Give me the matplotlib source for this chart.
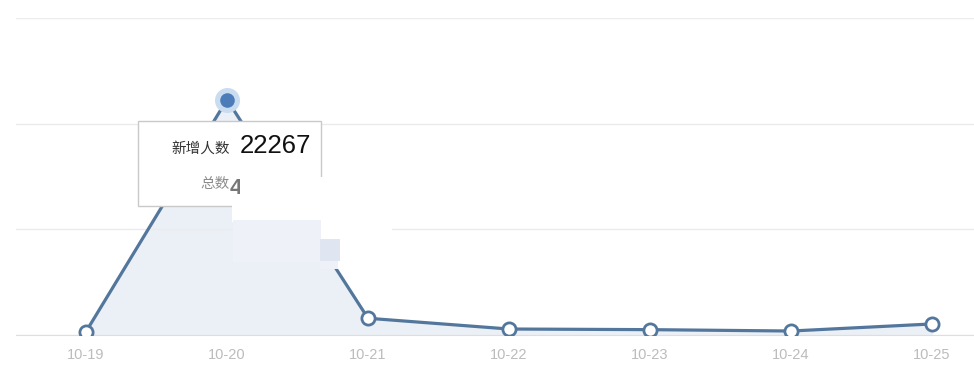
import numpy as np
import matplotlib.pyplot as plt
from matplotlib.patches import Rectangle

plt.rcParams['font.family'] = ['Noto Sans CJK SC', 'DejaVu Sans']

dates = ['10-19', '10-20', '10-21', '10-22', '10-23', '10-24', '10-25']
new_users = [270, 22267, 1540, 520, 460, 330, 1000]
y_ticks = [0, 10000, 20000, 30000]

peak_idx = 1
tip_label = '新增人数'
tip_value = '22267'
tip_total = '总数'

W, H = 974, 387
fig = plt.figure(figsize=(W / 100, H / 100), dpi=100)

# main plot, category axis with half-step padding; right part runs off the image
ax = fig.add_axes([15.5 / W, (H - 334.5) / H, 987 / W, 316.5 / H])
x = np.arange(len(dates))
ax.fill_between(x, new_users, 0, color='#ebeff6', zorder=1)
ax.plot(x, new_users, color='#53779c', lw=2.3, zorder=3)
ax.plot(x, new_users, 'o', ms=9.5, mfc='white', mec='#53779c', mew=2, zorder=4)
# hovered point
ax.plot(x[peak_idx], new_users[peak_idx], 'o', ms=18, color='#cadcf0', mec='none', zorder=4)
ax.plot(x[peak_idx], new_users[peak_idx], 'o', ms=10.5, color='#4d7db8', mec='none', zorder=5)

ax.set_xlim(-0.5, len(dates) - 0.5)
ax.set_ylim(0, 30000)
ax.set_yticks(y_ticks)
ax.set_xticks(x)
ax.set_xticklabels(dates, family=['Liberation Sans', 'DejaVu Sans'])
ax.tick_params(axis='x', length=0, pad=10, labelsize=10.5, labelcolor='#bcbcbc')
ax.tick_params(axis='y', left=False, labelleft=False)
ax.grid(axis='y', color='#ebebeb', lw=1, zorder=0)
ax.grid(axis='x', visible=False)
for s in ['top', 'left', 'right']:
    ax.spines[s].set_visible(False)
ax.spines['bottom'].set_color('#dedede')
ax.set_facecolor('none')

# overlay in pixel coordinates for tooltip
ov = fig.add_axes([0, 0, 1, 1], zorder=10)
ov.set_xlim(0, W)
ov.set_ylim(H, 0)
ov.axis('off')
ov.patch.set_alpha(0)

ov.add_patch(Rectangle((137.5, 120.5), 183, 85, facecolor='white', edgecolor='#c9c9c9',
                       lw=1, zorder=1))
ov.text(230, 149, tip_label, ha='right', va='center', fontsize=10.5, color='#333333', zorder=2)
ov.text(240, 146, tip_value, ha='left', va='center', fontsize=18.5, color='#111111',
        family=['Liberation Sans', 'DejaVu Sans'], zorder=2)
ov.text(230, 184, tip_total, ha='right', va='center', fontsize=10.5, color='#8c8c8c', zorder=2)
ov.text(230, 188, '4', ha='left', va='center', fontsize=16, color='#777777',
        family=['Liberation Sans', 'DejaVu Sans'], fontweight='bold', zorder=2)

# blanked-out areas
for (x0, y0, w, h, c) in [(240, 177, 82, 45, 'white'), (232, 198, 10, 24, 'white'),
                          (321, 177, 71, 62, 'white'), (233, 220, 88, 42, '#eef1f7'),
                          (320, 239, 20, 22, '#e0e5f2'), (320, 261, 18, 8, '#eef1f7')]:
    ov.add_patch(Rectangle((x0, y0), w, h, facecolor=c, edgecolor='none', zorder=3))

fig.savefig('out.png', dpi=100)
